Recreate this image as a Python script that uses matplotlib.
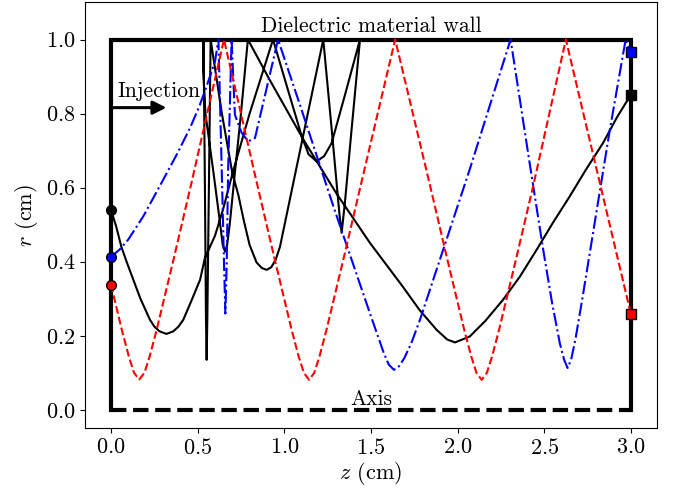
import matplotlib
matplotlib.use('Agg')
import matplotlib.pyplot as plt

plt.rcParams['font.family'] = 'serif'
plt.rcParams['font.serif'] = ['cmr10', 'DejaVu Serif']
plt.rcParams['mathtext.fontset'] = 'cm'
plt.rcParams['axes.formatter.use_mathtext'] = True
plt.rcParams['font.size'] = 16

# channel walls (cm)
wall_z = [0.0, 0.0, 3.0, 3.0]
wall_r = [0.0, 1.0, 1.0, 0.0]
axis_z = [0.0, 3.0]
axis_r = [0.0, 0.0]

# red particle (dashed)
red_z = [0.000, 0.063, 0.103, 0.133, 0.163, 0.193, 0.223, 0.263, 0.363, 0.463, 0.652,
         0.843, 0.943, 1.043, 1.083, 1.113, 1.143, 1.173, 1.203, 1.243, 1.343, 1.443, 1.640,
         1.839, 1.939, 2.039, 2.079, 2.109, 2.139, 2.169, 2.199, 2.239, 2.339, 2.439, 2.625,
         3.000]
red_r = [0.338, 0.215, 0.144, 0.100, 0.082, 0.100, 0.144, 0.215, 0.410, 0.610, 1.000,
         0.610, 0.410, 0.215, 0.144, 0.100, 0.081, 0.100, 0.144, 0.215, 0.410, 0.610, 1.000,
         0.610, 0.410, 0.215, 0.144, 0.100, 0.081, 0.100, 0.144, 0.215, 0.410, 0.610, 1.000,
         0.259]

# blue particle (dash-dot)
blue_z = [0.000, 0.050, 0.100, 0.187, 0.302, 0.380, 0.456, 0.510, 0.552, 0.600, 0.620,
          0.639, 0.652, 0.660, 0.668, 0.676, 0.696, 0.715, 0.754, 0.792, 0.831, 0.964,
          1.100, 1.283, 1.494, 1.573, 1.603, 1.633, 1.663, 1.693, 1.733, 1.783, 2.070,
          2.306, 2.418, 2.495, 2.545, 2.590, 2.615, 2.635, 2.655, 2.680, 2.720, 2.800,
          2.879, 2.970, 3.000]
blue_r = [0.413, 0.433, 0.460, 0.523, 0.622, 0.690, 0.761, 0.820, 0.874, 0.940, 1.000,
          0.649, 0.400, 0.260, 0.400, 0.649, 1.000, 0.797, 0.748, 0.725, 0.734, 1.000,
          0.810, 0.550, 0.261, 0.155, 0.122, 0.108, 0.118, 0.140, 0.180, 0.243, 0.649,
          1.000, 0.660, 0.430, 0.290, 0.180, 0.135, 0.113, 0.135, 0.190, 0.300, 0.530,
          0.757, 1.000, 0.965]

# black particle (solid)
black_z = [0.000, 0.030, 0.060, 0.090, 0.129, 0.170, 0.225, 0.250, 0.280, 0.320, 0.360,
           0.390, 0.417, 0.460, 0.514, 0.542, 0.600, 0.646, 0.704, 0.800, 0.935, 1.030,
           1.100, 1.140, 1.187, 1.230, 1.273, 1.350, 1.437, 1.384, 1.350, 1.331, 1.318,
           1.278, 1.225, 1.100, 0.975, 0.950, 0.925, 0.898, 0.870, 0.840, 0.800, 0.765,
           0.735, 0.700, 0.640, 0.575, 0.565, 0.556, 0.552, 0.548, 0.542, 0.534, 0.532,
           0.545, 0.589, 0.625, 0.645, 0.658, 0.670, 0.685, 0.715, 0.750, 0.790, 0.917,
           1.110, 1.300, 1.494, 1.685, 1.780, 1.879, 1.940, 1.985, 2.070, 2.160, 2.262,
           2.360, 2.456, 2.550, 2.648, 2.740, 2.840, 2.920, 3.000]
black_r = [0.540, 0.495, 0.440, 0.400, 0.351, 0.300, 0.243, 0.225, 0.212, 0.205, 0.212,
           0.225, 0.243, 0.290, 0.351, 0.410, 0.470, 0.540, 0.643, 0.800, 1.000, 0.850,
           0.740, 0.690, 0.671, 0.685, 0.720, 0.850, 1.000, 0.735, 0.560, 0.478, 0.530,
           0.735, 1.000, 0.720, 0.440, 0.405, 0.385, 0.378, 0.383, 0.398, 0.445, 0.514,
           0.580, 0.640, 0.800, 1.000, 0.600, 0.250, 0.135, 0.250, 0.600, 1.000, 0.920,
           0.800, 0.649, 0.520, 0.445, 0.427, 0.445, 0.500, 0.640, 0.800, 1.000, 0.890,
           0.730, 0.585, 0.451, 0.332, 0.270, 0.216, 0.190, 0.182, 0.198, 0.240, 0.297,
           0.360, 0.432, 0.505, 0.577, 0.648, 0.721, 0.790, 0.851]

fig = plt.figure(figsize=(6.73, 4.95), dpi=100)
ax = fig.add_axes([0.1263, 0.1354, 0.8497, 0.8596])

# walls
ax.plot(wall_z, wall_r, color='black', lw=3, solid_joinstyle='miter')
ax.plot(axis_z, axis_r, color='black', lw=3, linestyle='--')

# trajectories
ax.plot(black_z, black_r, color='black', lw=1.5)
ax.plot(blue_z, blue_r, color='blue', lw=1.5, linestyle='-.')
ax.plot(red_z, red_r, color='red', lw=1.5, linestyle='--')

# start / end markers
ax.plot(black_z[0], black_r[0], 'o', color='black', mec='black', ms=7, zorder=5)
ax.plot(blue_z[0], blue_r[0], 'o', color='blue', mec='black', ms=7, zorder=5)
ax.plot(red_z[0], red_r[0], 'o', color='red', mec='black', ms=7, zorder=5)
ax.plot(blue_z[-1], blue_r[-1], 's', color='blue', mec='black', ms=7, zorder=5)
ax.plot(black_z[-1], black_r[-1], 's', color='black', mec='black', ms=7, zorder=5)
ax.plot(red_z[-1], red_r[-1], 's', color='red', mec='black', ms=7, zorder=5)

# labels
ax.text(1.5, 1.02, 'Dielectric material wall', ha='center', va='baseline', fontsize=15.5)
ax.text(1.5, 0.013, 'Axis', ha='center', va='baseline', fontsize=15.5)
ax.text(0.04, 0.846, 'Injection', ha='left', va='baseline', fontsize=15.5)
ax.annotate('', xy=(0.32, 0.816), xytext=(0.0, 0.816),
            arrowprops=dict(arrowstyle='-|>', color='black', lw=2.2, mutation_scale=20,
                            shrinkA=0, shrinkB=0))

ax.set_xlim(-0.15, 3.15)
ax.set_ylim(-0.049, 1.10)
ax.set_xticks([0.0, 0.5, 1.0, 1.5, 2.0, 2.5, 3.0])
ax.set_yticks([0.0, 0.2, 0.4, 0.6, 0.8, 1.0])
ax.set_xlabel('$z$ (cm)', labelpad=2)
ax.set_ylabel('$r$ (cm)', labelpad=4)

plt.savefig('out.png', dpi=100)
